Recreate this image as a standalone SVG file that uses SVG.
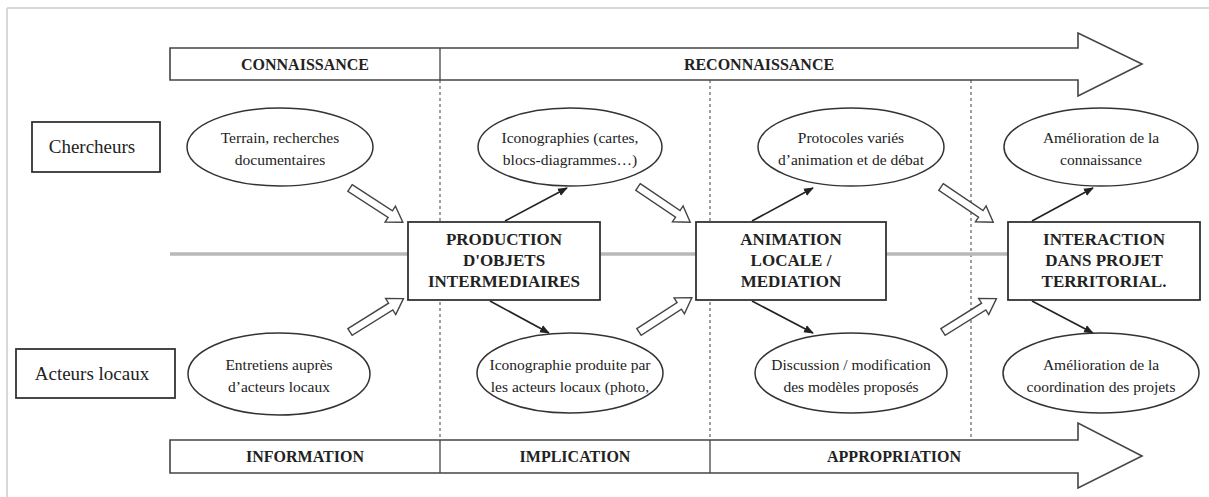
<svg xmlns="http://www.w3.org/2000/svg" width="1209" height="497" viewBox="0 0 1209 497">
<style>
.frame{stroke:#d8d8d8;stroke-width:2;fill:none}
.band{fill:#fff;stroke:#444;stroke-width:1.6}
.div{stroke:#444;stroke-width:1.3}
.dash{stroke:#777;stroke-width:1.4;stroke-dasharray:3,3;fill:none}
.axis{stroke:#b8b8b8;stroke-width:3.5}
.box{fill:#fff;stroke:#333;stroke-width:1.8}
.ell{fill:#fff;stroke:#333;stroke-width:1.5}
.hol{fill:#fff;stroke:#444;stroke-width:1.4}
.arr{stroke:#222;stroke-width:1.6;fill:none}
text{font-family:"Liberation Serif","Times New Roman",serif;fill:#222;text-anchor:middle}
.bt{font-size:16px;font-weight:bold}
.bx{font-size:17px;font-weight:bold}
.et{font-size:15.5px}
.lt{font-size:19px}
</style>
<defs>
<marker id="ah" viewBox="0 0 10 10" refX="9" refY="5" markerWidth="10" markerHeight="10" markerUnits="userSpaceOnUse" orient="auto">
<path d="M0,1 L10,5 L0,9 Z" fill="#222"/>
</marker>
<path id="hollow" d="M0,-4 H48 V-9.5 L63,0 L48,9.5 V4 H0 Z"/>
</defs>
<g id="frame">
<line class="frame" x1="7" y1="8" x2="1209" y2="8"/>
<line class="frame" x1="7" y1="8" x2="7" y2="497"/>
</g>
<g id="phases-guides">
<line class="dash" x1="440" y1="80" x2="440" y2="440"/>
<line class="dash" x1="710" y1="80" x2="710" y2="440"/>
<line class="dash" x1="971" y1="80" x2="971" y2="440"/>
</g>
<g id="top-band">
<path class="band" d="M170,48 H1078 V33 L1142,64 L1078,96 V80 H170 Z"/>
<line class="div" x1="440" y1="48" x2="440" y2="80"/>
<text class="bt" x="305" y="70">CONNAISSANCE</text>
<text class="bt" x="759" y="70">RECONNAISSANCE</text>
</g>
<g id="bottom-band">
<path class="band" d="M170,440 H1078 V423 L1142,456 L1078,488 V473 H170 Z"/>
<line class="div" x1="440" y1="440" x2="440" y2="473"/>
<line class="div" x1="710" y1="440" x2="710" y2="473"/>
<text class="bt" x="305" y="462">INFORMATION</text>
<text class="bt" x="575" y="462">IMPLICATION</text>
<text class="bt" x="894" y="462">APPROPRIATION</text>
</g>
<g id="axis">
<line class="axis" x1="170" y1="254" x2="1008" y2="254"/>
</g>
<g id="connectors">
<use href="#hollow" class="hol" transform="translate(350,188) rotate(33)"/>
<use href="#hollow" class="hol" transform="translate(638,187) rotate(34)"/>
<use href="#hollow" class="hol" transform="translate(941,187) rotate(34)"/>
<use href="#hollow" class="hol" transform="translate(350,332) rotate(-32)"/>
<use href="#hollow" class="hol" transform="translate(639,332) rotate(-33)"/>
<use href="#hollow" class="hol" transform="translate(943,332) rotate(-32)"/>
<line class="arr" x1="505" y1="221" x2="567" y2="188" marker-end="url(#ah)"/>
<line class="arr" x1="752" y1="221" x2="813" y2="188" marker-end="url(#ah)"/>
<line class="arr" x1="1032" y1="221" x2="1093" y2="188" marker-end="url(#ah)"/>
<line class="arr" x1="490" y1="301" x2="549" y2="333" marker-end="url(#ah)"/>
<line class="arr" x1="752" y1="301" x2="813" y2="333" marker-end="url(#ah)"/>
<line class="arr" x1="1032" y1="301" x2="1093" y2="333" marker-end="url(#ah)"/>
</g>
<g id="chercheurs">
<rect class="box" x="32" y="122" width="128" height="50"/>
<text class="lt" x="92" y="153">Chercheurs</text>
</g>
<g id="acteurs">
<rect class="box" x="16" y="349" width="159" height="49"/>
<text class="lt" x="92" y="380">Acteurs locaux</text>
</g>
<g id="terrain">
<ellipse class="ell" cx="280" cy="147" rx="93" ry="39"/>
<text class="et" x="280" y="143">Terrain, recherches</text>
<text class="et" x="280" y="165">documentaires</text>
</g>
<g id="iconographies">
<ellipse class="ell" cx="570" cy="147" rx="92" ry="39"/>
<text class="et" x="570" y="143">Iconographies (cartes,</text>
<text class="et" x="570" y="165">blocs-diagrammes…)</text>
</g>
<g id="protocoles">
<ellipse class="ell" cx="851" cy="147" rx="93" ry="39"/>
<text class="et" x="851" y="143">Protocoles variés</text>
<text class="et" x="851" y="165">d’animation et de débat</text>
</g>
<g id="amelioration-connaissance">
<ellipse class="ell" cx="1101" cy="147" rx="97" ry="39"/>
<text class="et" x="1101" y="143">Amélioration de la</text>
<text class="et" x="1101" y="165">connaissance</text>
</g>
<g id="entretiens">
<ellipse class="ell" cx="279" cy="374" rx="91" ry="41"/>
<text class="et" x="279" y="370">Entretiens auprès</text>
<text class="et" x="279" y="392">d’acteurs locaux</text>
</g>
<g id="iconographie-produite">
<ellipse class="ell" cx="570" cy="373" rx="93" ry="40"/>
<text class="et" x="570" y="370">Iconographie produite par</text>
<text class="et" x="570" y="392">les acteurs locaux (photo,</text>
</g>
<g id="discussion">
<ellipse class="ell" cx="851" cy="373" rx="96" ry="40"/>
<text class="et" x="851" y="370">Discussion / modification</text>
<text class="et" x="851" y="392">des modèles proposés</text>
</g>
<g id="amelioration-coordination">
<ellipse class="ell" cx="1101" cy="373" rx="98" ry="40"/>
<text class="et" x="1101" y="370">Amélioration de la</text>
<text class="et" x="1101" y="392">coordination des projets</text>
</g>
<g id="production">
<rect class="box" x="408" y="222" width="192" height="78"/>
<text class="bx" x="504" y="245">PRODUCTION</text>
<text class="bx" x="504" y="266">D'OBJETS</text>
<text class="bx" x="504" y="287">INTERMEDIAIRES</text>
</g>
<g id="animation">
<rect class="box" x="696" y="222" width="190" height="78"/>
<text class="bx" x="791" y="245">ANIMATION</text>
<text class="bx" x="791" y="266">LOCALE /</text>
<text class="bx" x="791" y="287">MEDIATION</text>
</g>
<g id="interaction">
<rect class="box" x="1008" y="222" width="192" height="78"/>
<text class="bx" x="1104" y="245">INTERACTION</text>
<text class="bx" x="1104" y="266">DANS PROJET</text>
<text class="bx" x="1104" y="287">TERRITORIAL.</text>
</g>
</svg>
